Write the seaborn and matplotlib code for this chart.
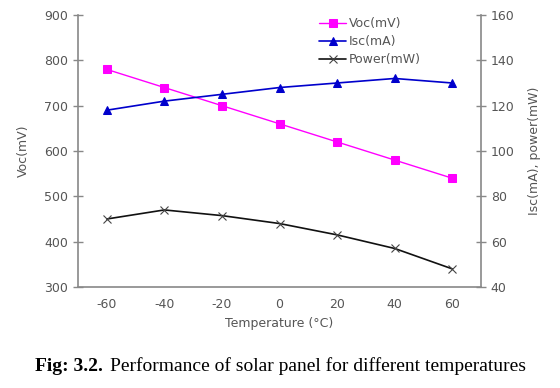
import matplotlib
matplotlib.use("Agg")
import matplotlib.pyplot as plt
import seaborn as sns
import pandas as pd

temps = [-60, -40, -20, 0, 20, 40, 60]
voc = [780, 740, 700, 660, 620, 580, 540]
isc = [118, 122, 125, 128, 130, 132, 130]
power = [70, 74, 71.5, 68, 63, 57, 48]

sns.set_style("white")
plt.rcParams['font.family'] = ['DejaVu Sans']

axis_col = "#888888"
text_col = "#555555"

fig = plt.figure(figsize=(5.6, 3.88), dpi=100)
ax = fig.add_axes([78/560, 1-287/388, (481-78)/560, (287-15)/388])
ax2 = ax.twinx()

df = pd.DataFrame({"T": temps, "Voc": voc, "Isc": isc, "Power": power})

sns.lineplot(data=df, x="T", y="Voc", ax=ax, color="#ff00ff", marker="s",
             markersize=6, markeredgecolor="#ff00ff", linewidth=1.0, label="Voc(mV)", legend=False)
sns.lineplot(data=df, x="T", y="Isc", ax=ax2, color="#0000cc", marker="^",
             markersize=6, markeredgecolor="#0000cc", linewidth=1.2, label="Isc(mA)", legend=False)
sns.lineplot(data=df, x="T", y="Power", ax=ax2, color="#111111", marker="x",
             markersize=6, markeredgecolor="#444444", markeredgewidth=0.8, linewidth=1.2,
             label="Power(mW)", legend=False)

ax.set_xlim(-70, 70)
ax.set_ylim(300, 900)
ax2.set_ylim(40, 160)
ax.set_yticks(range(300, 901, 100))
ax2.set_yticks(range(40, 161, 20))

ax.set_xticks([-50, -30, -10, 10, 30, 50])
ax.set_xticklabels([])
ax.set_xticks(temps, minor=True)
ax.set_xticklabels([str(t) for t in temps], minor=True)
ax.tick_params(axis="x", which="major", direction="inout", length=7, color=axis_col, width=1)
ax.tick_params(axis="x", which="minor", length=0, labelsize=9, labelcolor=text_col, pad=8)
ax.tick_params(axis="y", direction="inout", length=7, color=axis_col, width=1, labelsize=9,
               labelcolor=text_col, left=True)
ax2.tick_params(axis="y", direction="inout", length=7, color=axis_col, width=1, labelsize=9,
                labelcolor=text_col, right=True)

for a in (ax, ax2):
    a.spines["top"].set_visible(False)
    for s in ("left", "right", "bottom"):
        a.spines[s].set_color(axis_col)
        a.spines[s].set_linewidth(1.2)
ax.spines["right"].set_visible(False)
ax2.spines["left"].set_visible(False)
ax2.spines["bottom"].set_visible(False)

ax.set_xlabel("Temperature (°C)", fontsize=9, color=text_col, labelpad=4)
ax.set_ylabel("Voc(mV)", fontsize=9, color=text_col, labelpad=10)
ax2.set_ylabel("Isc(mA), power(mW)", fontsize=9, color=text_col, labelpad=10)

h1, l1 = ax.get_legend_handles_labels()
h2, l2 = ax2.get_legend_handles_labels()
leg = ax2.legend(h1 + h2, l1 + l2, loc="upper left", bbox_to_anchor=(0.585, 1.01),
                 frameon=False, fontsize=9, labelcolor=text_col, handlelength=2.2,
                 handletextpad=0.2, borderaxespad=0, labelspacing=0.4)

fig.text(35/560, 0.045, "Fig: 3.2.", fontsize=14, fontweight="bold", family="Liberation Serif",
         color="black", ha="left", va="baseline")
fig.text(110/560, 0.045, "Performance of solar panel for different temperatures", fontsize=14,
         family="Liberation Serif", color="black", ha="left", va="baseline")

fig.savefig("out.png", dpi=100)
